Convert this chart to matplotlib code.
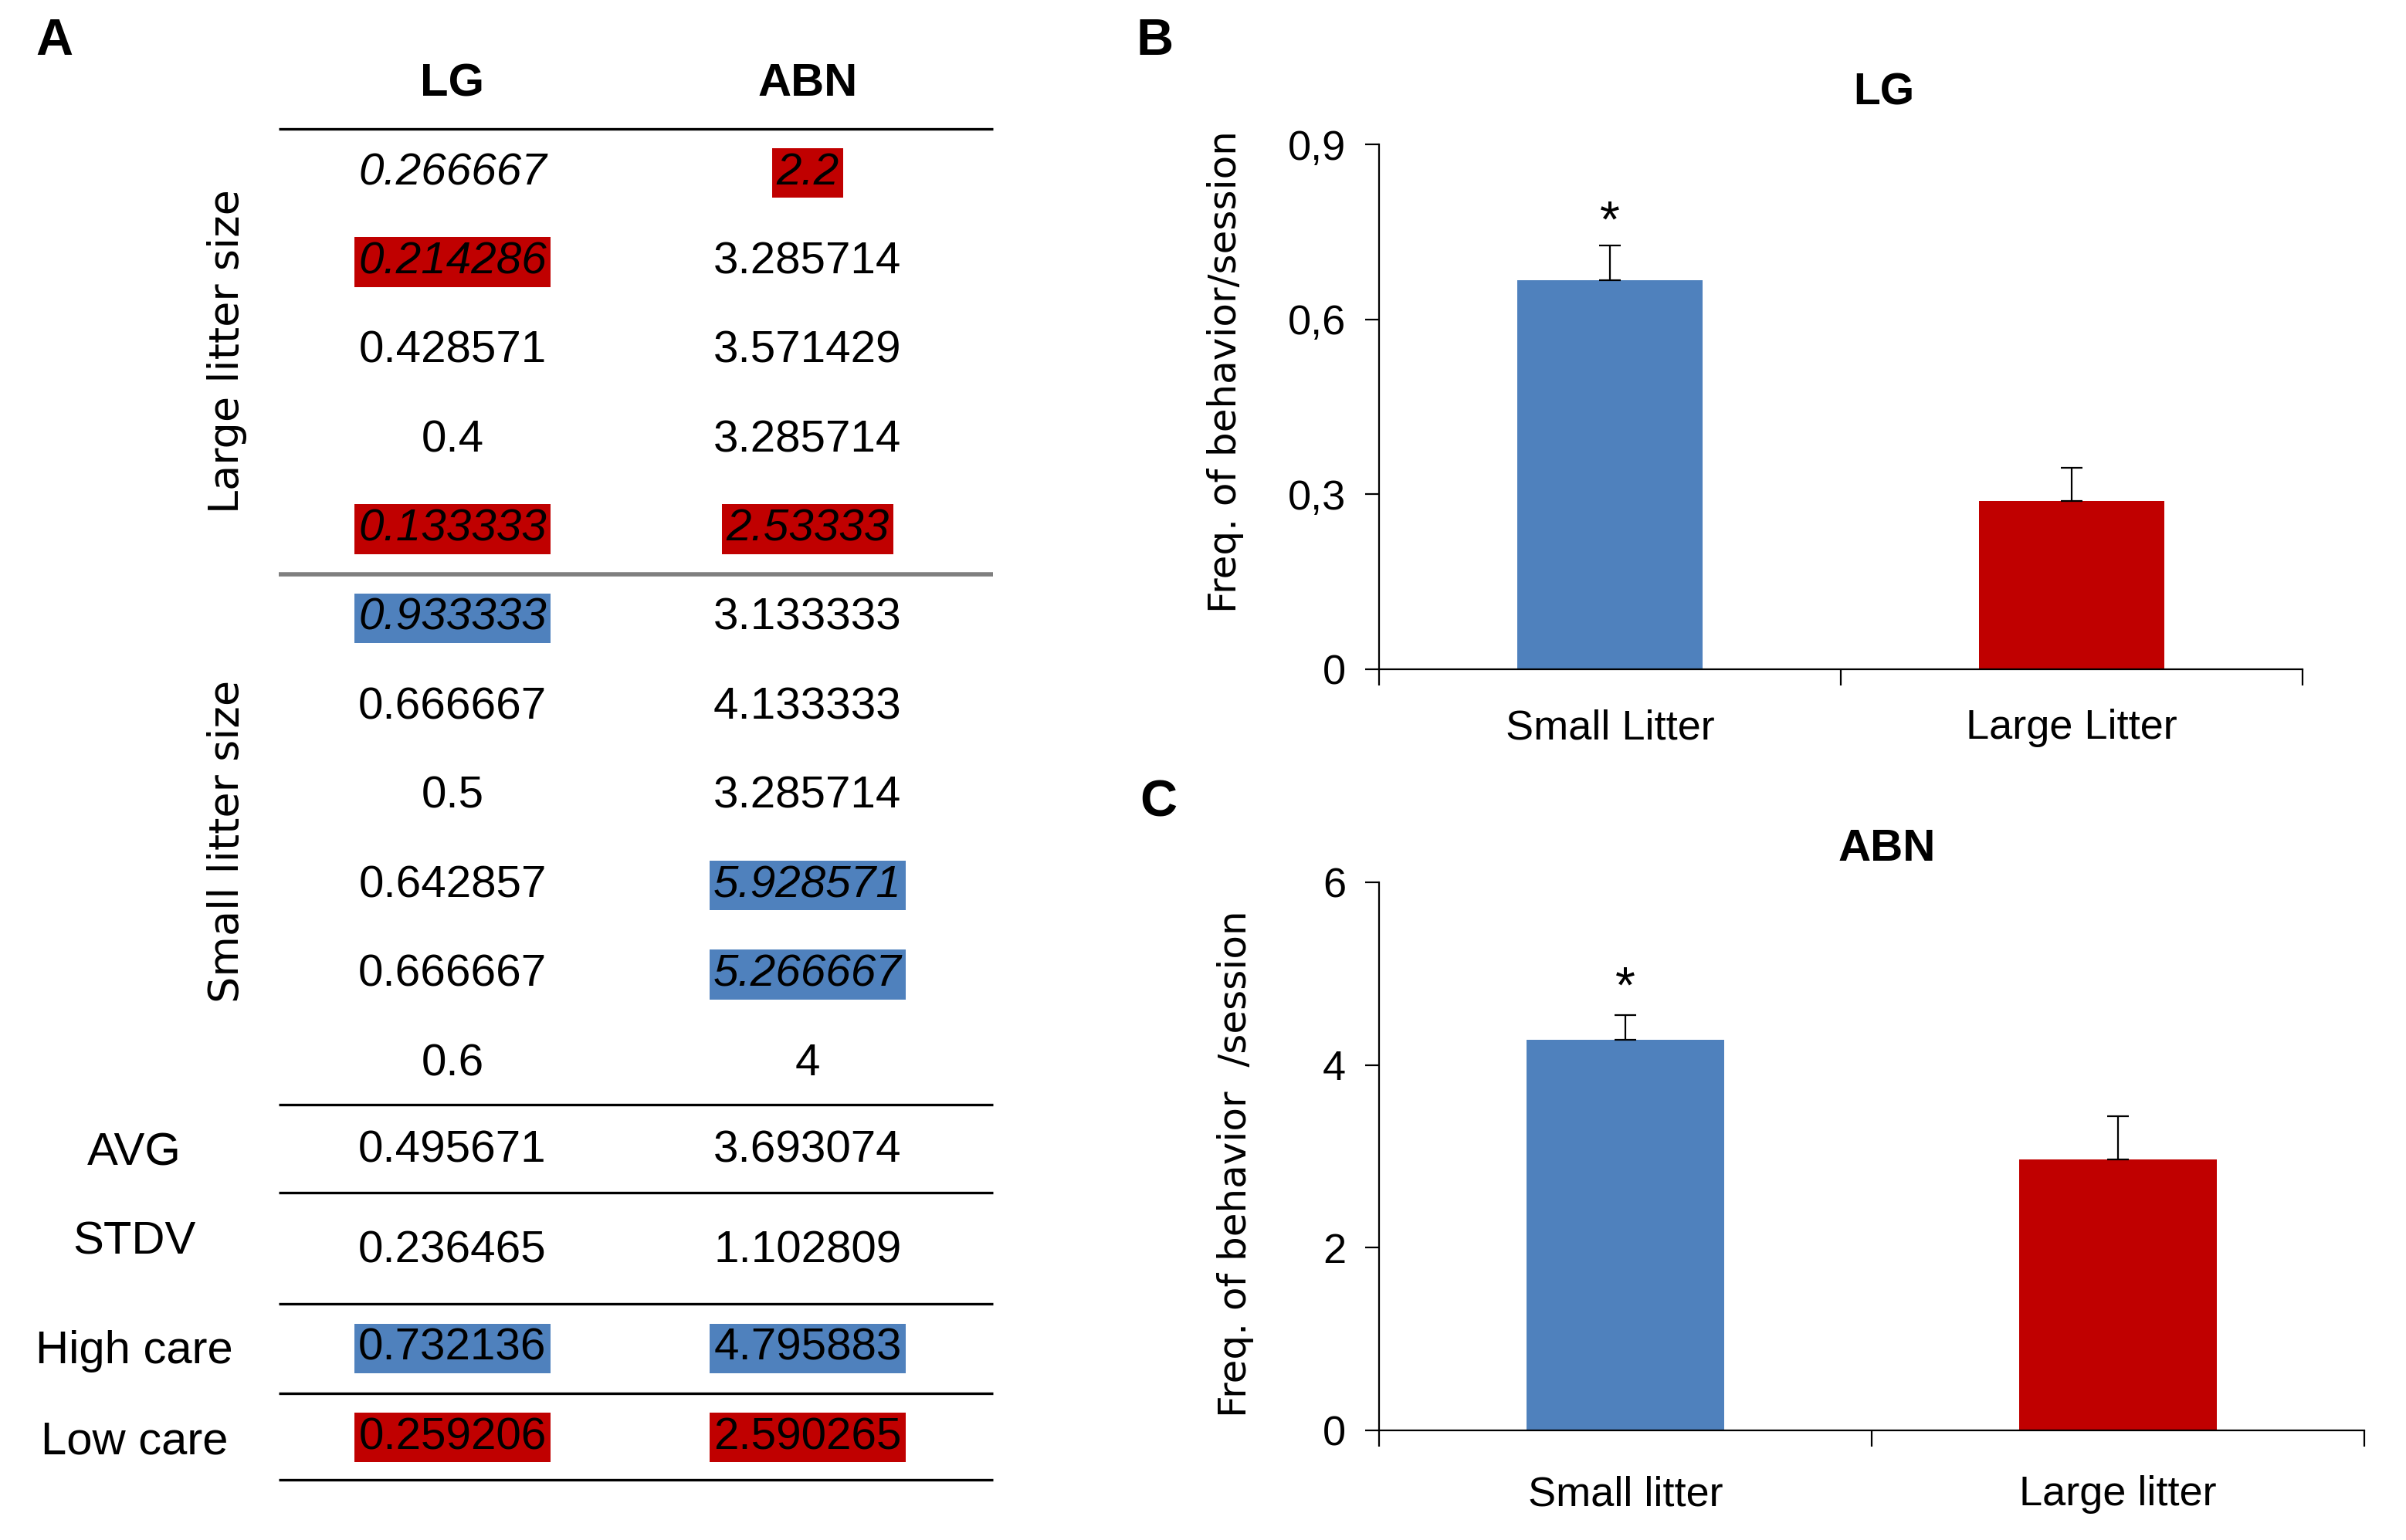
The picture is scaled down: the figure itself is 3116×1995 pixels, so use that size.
import numpy as np
import matplotlib
matplotlib.use("Agg")
import matplotlib.pyplot as plt

# Tabla (panel A): valores por camada
lg_large = ['0.266667', '0.214286', '0.428571', '0.4', '0.133333']
abn_large = ['2.2', '3.285714', '3.571429', '3.285714', '2.53333']
lg_small = ['0.933333', '0.666667', '0.5', '0.642857', '0.666667', '0.6']
abn_small = ['3.133333', '4.133333', '3.285714', '5.928571', '5.266667', '4']

summary_labels = ['AVG', 'STDV', 'High care', 'Low care']
lg_summary = ['0.495671', '0.236465', '0.732136', '0.259206']
abn_summary = ['3.693074', '1.102809', '4.795883', '2.590265']

# marcas: 'low' = rojo, 'high' = azul
lg_mark = ['', 'low', '', '', 'low', 'high', '', '', '', '', '']
abn_mark = ['low', '', '', '', 'low', '', '', '', 'high', 'high', '']
lg_italic = [1, 1, 0, 0, 1, 1, 0, 0, 0, 0, 0]
abn_italic = [1, 0, 0, 0, 1, 0, 0, 0, 1, 1, 0]
summary_mark = ['', '', 'high', 'low']

# Barras (paneles B y C)
groups_b = ['Small Litter', 'Large Litter']
lg_means = [0.667, 0.289]
lg_sem = [0.060, 0.057]
groups_c = ['Small litter', 'Large litter']
abn_means = [4.28, 2.97]
abn_sem = [0.27, 0.47]

BLUE = '#4F81BD'
RED = '#C00000'
mark_color = {'low': RED, 'high': BLUE}

NARROW = ['Liberation Sans', 'DejaVu Sans']
WIDE = ['DejaVu Sans']

W, H = 3116, 1995
fig = plt.figure(figsize=(W / 100, H / 100), dpi=100)


def px_axes(left, top, right, bottom):
    return fig.add_axes([left / W, 1 - bottom / H, (right - left) / W, (bottom - top) / H])


# capa de texto en pixeles
ov = fig.add_axes([0, 0, 1, 1])
ov.set_xlim(0, W)
ov.set_ylim(H, 0)
ov.axis('off')

col_lg, col_abn, col_lab = 586, 1046, 174
row_y0, row_step = 224, 115.4
num_size = 42

ov.text(70, 54, 'A', fontsize=48, fontweight='bold', family=NARROW, ha='center', va='center')
ov.text(col_lg, 109, 'LG', fontsize=43, fontweight='bold', family=NARROW, ha='center', va='center')
ov.text(col_abn, 109, 'ABN', fontsize=43, fontweight='bold', family=NARROW, ha='center', va='center')


def cell(x, y, s, mark, italic):
    kw = dict(fontsize=num_size, family=NARROW, ha='center', va='center',
              style='italic' if italic else 'normal')
    if mark:
        kw['bbox'] = dict(boxstyle='square,pad=0.09', fc=mark_color[mark], ec='none')
    ov.text(x, y, s, **kw)


lg_rows = lg_large + lg_small
abn_rows = abn_large + abn_small
for i in range(len(lg_rows)):
    y = row_y0 + row_step * i
    cell(col_lg, y, lg_rows[i], lg_mark[i], lg_italic[i])
    cell(col_abn, y, abn_rows[i], abn_mark[i], abn_italic[i])

ov.text(294, row_y0 + row_step * 2, 'Large litter size', rotation=90, fontsize=39,
        family=WIDE, ha='center', va='center')
ov.text(294, row_y0 + row_step * 7.5, 'Small litter size', rotation=90, fontsize=39,
        family=WIDE, ha='center', va='center')

summary_y = [1490, 1621, 1747, 1862]
label_dy = [4, -12, 4, 6]
for i, lab in enumerate(summary_labels):
    y = summary_y[i]
    ov.text(col_lab, y + label_dy[i], lab, fontsize=43, family=NARROW, ha='center', va='center')
    cell(col_lg, y, lg_summary[i], summary_mark[i], 0)
    cell(col_abn, y, abn_summary[i], summary_mark[i], 0)

for y in [167, 1431, 1545, 1689, 1805, 1917]:
    ov.plot([361, 1286], [y, y], color='black', lw=2.4, solid_capstyle='butt')
ov.plot([361, 1286], [744, 744], color='#7f7f7f', lw=4, solid_capstyle='butt')


def bar_panel(ax, groups, means, sem, ymax, ticks, ticklabels, star_off, cat_pad):
    x = np.arange(len(groups))
    ax.bar(x, means, width=0.4, color=[BLUE, RED], zorder=2)
    ax.errorbar(x, means, yerr=[np.zeros(len(sem)), sem], fmt='none', ecolor='black',
                elinewidth=1.6, capsize=10, capthick=1.6, zorder=3)
    ax.set_xlim(-0.5, 1.5)
    ax.set_ylim(0, ymax)
    for s in ['top', 'right']:
        ax.spines[s].set_visible(False)
    for s in ['left', 'bottom']:
        ax.spines[s].set_linewidth(1.6)
    ax.set_yticks(ticks)
    ax.set_yticklabels(ticklabels)
    ax.tick_params(axis='y', length=13, width=1.6, pad=18, labelsize=39)
    ax.set_xticks([-0.5, 0.5, 1.5])
    ax.set_xticklabels([])
    ax.tick_params(axis='x', which='major', length=15, width=1.6)
    ax.set_xticks(x, minor=True)
    ax.set_xticklabels(groups, minor=True)
    ax.tick_params(axis='x', which='minor', length=0, pad=cat_pad, labelsize=39)
    for t in ax.get_yticklabels() + ax.get_xticklabels(minor=True):
        t.set_fontfamily(NARROW)
    ax.annotate('*', xy=(x[0], means[0] + sem[0]), xytext=(0, star_off),
                textcoords='offset points', ha='center', va='center', fontsize=48,
                family=NARROW)


ax_b = px_axes(1786, 187, 2982, 867)
bar_panel(ax_b, groups_b, lg_means, lg_sem, 0.9, [0, 0.3, 0.6, 0.9],
          ['0', '0,3', '0,6', '0,9'], 20, 37)

ax_c = px_axes(1786, 1143, 3062, 1853)
bar_panel(ax_c, groups_c, abn_means, abn_sem, 6, [0, 2, 4, 6],
          ['0', '2', '4', '6'], 24, 42)

# titulos, etiquetas de eje y letras de panel
ov.text(2440, 120, 'LG', fontsize=41, fontweight='bold', family=NARROW, ha='center', va='center')
ov.text(2444, 1100, 'ABN', fontsize=42, fontweight='bold', family=NARROW, ha='center', va='center')
ov.text(1587, 482, 'Freq. of behavior/session', rotation=90, fontsize=36, family=WIDE,
        ha='center', va='center')
ov.text(1600, 1508, 'Freq. of behavior  /session', rotation=90, fontsize=36, family=WIDE,
        ha='center', va='center')
ov.text(1496, 54, 'B', fontsize=48, fontweight='bold', family=NARROW, ha='center', va='center')
ov.text(1500, 1040, 'C', fontsize=48, fontweight='bold', family=NARROW, ha='center', va='center')

fig.savefig('out.png', dpi=100, facecolor='white')
